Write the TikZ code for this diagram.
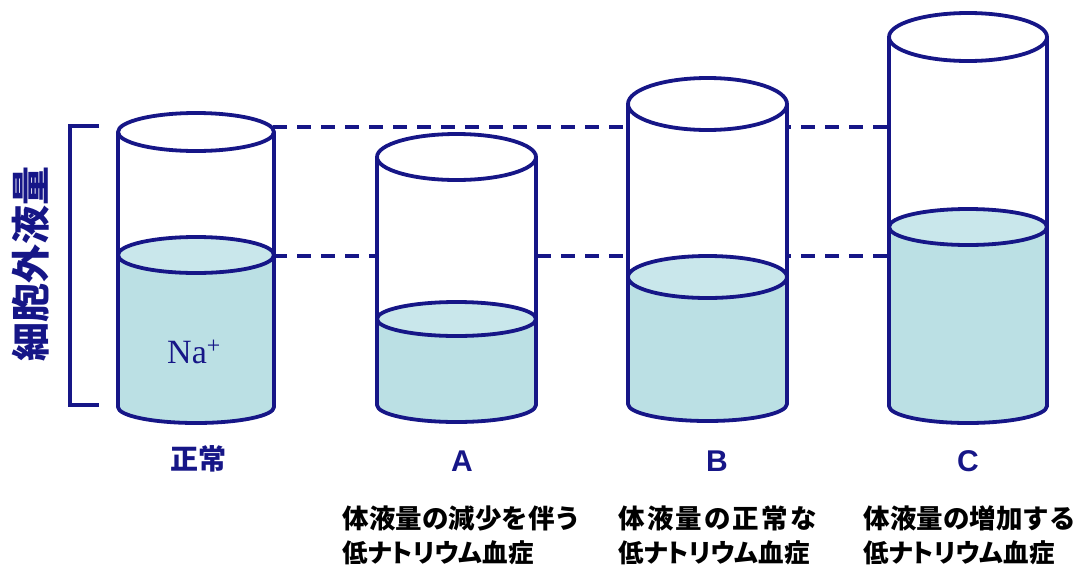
\documentclass[tikz,border=0pt]{standalone}
\usepackage{fontspec}
\setmainfont{Liberation Serif}
\newfontfamily\jp{Noto Sans CJK JP}
\newfontfamily\arial{Liberation Sans}
\definecolor{navy}{RGB}{22,22,135}
\definecolor{liquid}{RGB}{187,224,228}
\definecolor{liquidtop}{RGB}{201,231,235}
\tikzset{
  cylline/.style={draw=navy,line width=3.8pt,line join=round},
  dashline/.style={draw=navy,line width=3.3pt,dash pattern=on 14pt off 10pt},
  bracketline/.style={draw=navy,line width=3.5pt},
  letter/.style={text=navy,font=\arial\bfseries\fontsize{30}{30}\selectfont},
  caption/.style={text=black,anchor=west,font=\jp\bfseries\fontsize{26.5}{26.5}\selectfont},
  caption2/.style={caption,font=\jp\bfseries\fontsize{25.5}{25.5}\selectfont\addfontfeature{RawFeature=+palt}},
}
\newcommand\drawcyl[9]{%
  \coordinate (#1-tl) at ({#2-#3},#4);
  \coordinate (#1-tr) at ({#2+#3},#4);
  \coordinate (#1-ll) at ({#2-#3},#6);
  \coordinate (#1-lr) at ({#2+#3},#6);
  \coordinate (#1-bl) at ({#2-#3},#8);
  \coordinate (#1-br) at ({#2+#3},#8);
  \fill[white] (#1-tl) -- (#1-bl) arc[start angle=180,end angle=360,x radius=#3pt,y radius=#9pt] -- (#1-tr) -- cycle;
  \fill[liquid] (#1-ll) -- (#1-bl) arc[start angle=180,end angle=360,x radius=#3pt,y radius=#9pt] -- (#1-lr) -- cycle;
  \draw[cylline] (#1-tl) -- (#1-bl) arc[start angle=180,end angle=360,x radius=#3pt,y radius=#9pt] -- (#1-tr);
  \draw[cylline,fill=liquidtop] (#2,#6) ellipse[x radius=#3pt,y radius=#7pt];
  \draw[cylline,fill=white] (#2,#4) ellipse[x radius=#3pt,y radius=#5pt];
}
\begin{document}
\begin{tikzpicture}[x=1pt,y=-1pt]
\useasboundingbox (0,0) rectangle (1078,565);
% dashed reference lines
\coordinate (d1a) at (273,127);
\coordinate (d1b) at (889,127);
\coordinate (d2a) at (273,256);
\coordinate (d2b) at (889,256);
\draw[dashline] (d1a) -- (d1b);
\draw[dashline] (d2a) -- (d2b);
% bracket
\coordinate (bt) at (99,126);
\coordinate (bb) at (99,405);
\draw[bracketline] (bt) -- (70,126) -- (70,405) -- (bb);
\node[rotate=90,text=navy,font=\jp\bfseries\fontsize{39}{39}\selectfont] (ecf) at (31,264) {細胞外液量};
% cylinders
\drawcyl{N}{196}{78}{132}{19}{255}{18}{407}{16}
\drawcyl{A}{456.5}{79.5}{157}{23}{319}{17}{405}{17}
\drawcyl{B}{707.5}{79.5}{104}{26}{277}{21}{404}{17}
\drawcyl{C}{968}{79}{37}{24}{227}{18}{406}{17}
\node[anchor=base,text=navy,font=\fontsize{34}{34}\selectfont] (na) at (194,363) {Na\textsuperscript{+}};
% labels
\node[text=navy,font=\jp\bfseries\fontsize{28}{28}\selectfont] (lN) at (198,459) {正常};
\node[letter] (lA) at (462,461) {A};
\node[letter] (lB) at (717,461) {B};
\node[letter] (lC) at (968,461) {C};
\node[caption] (cA1) at (339,518) {体液量の減少を伴う};
\node[caption2] (cA2) at (339,553) {低ナトリウム血症};
\node[caption] (cB1) at (615,518) {\addfontfeature{LetterSpace=8}体液量の正常な};
\node[caption2] (cB2) at (615,553) {低ナトリウム血症};
\node[caption] (cC1) at (860,518) {体液量の増加する};
\node[caption2] (cC2) at (860,553) {低ナトリウム血症};
\end{tikzpicture}
\end{document}
